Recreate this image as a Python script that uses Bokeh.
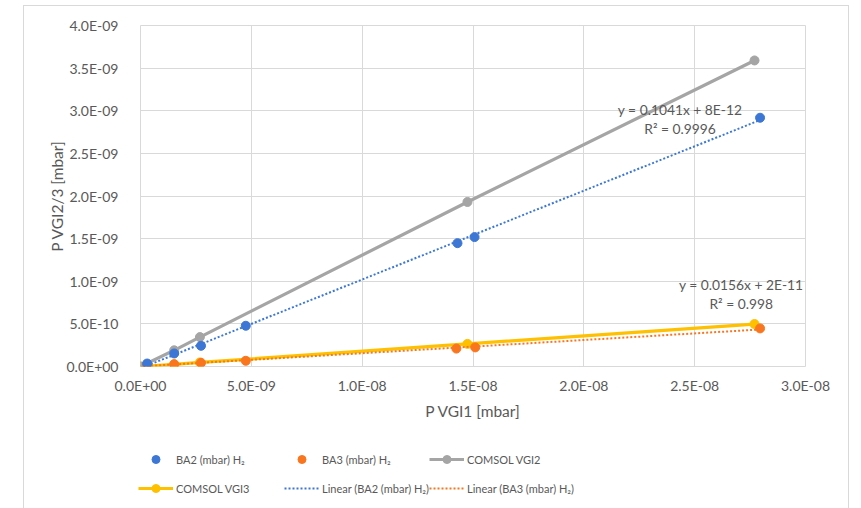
import numpy as np
from bokeh.plotting import figure
from bokeh.layouts import column
from bokeh.models import (Legend, LegendItem, FixedTicker, CustomJSTickFormatter,
                          Range1d)
from bokeh.core.properties import value
from bokeh.embed import file_html
from bokeh.resources import INLINE

# ---- data ----
ba2_x = [0.3e-9, 1.52e-9, 2.73e-9, 4.75e-9, 1.43e-8, 1.507e-8, 2.795e-8]
ba2_y = [0.35e-10, 1.53e-10, 2.43e-10, 4.78e-10, 1.447e-9, 1.518e-9, 2.918e-9]
ba3_x = [0.3e-9, 1.52e-9, 2.73e-9, 4.75e-9, 1.425e-8, 1.51e-8, 2.795e-8]
ba3_y = [0.20e-10, 0.27e-10, 0.43e-10, 0.67e-10, 2.10e-10, 2.24e-10, 4.47e-10]
comsol_x = [0.0, 1.52e-9, 2.68e-9, 1.475e-8, 2.77e-8]
vgi2_y = [0.0, 1.90e-10, 3.45e-10, 1.93e-9, 3.59e-9]
vgi3_y = [0.0, 2.6e-11, 4.8e-11, 2.65e-10, 4.98e-10]

x_ticks = [0, 5e-9, 1e-8, 1.5e-8, 2e-8, 2.5e-8, 3e-8]
y_ticks = [0, 5e-10, 1e-9, 1.5e-9, 2e-9, 2.5e-9, 3e-9, 3.5e-9, 4e-9]

eq_ba2 = ["y = 0.1041x + 8E-12", "R² = 0.9996"]
eq_ba3 = ["y = 0.0156x + 2E-11", "R² = 0.998"]
eq_ba2_pos = ([2.434e-8, 2.434e-8], [3.01e-9, 2.79e-9])
eq_ba3_pos = ([2.71e-8, 2.71e-8], [9.65e-10, 7.41e-10])

labels = ["BA2 (mbar) H₂", "BA3 (mbar) H₂", "COMSOL VGI2", "COMSOL VGI3",
          "Linear (BA2 (mbar) H₂)", "Linear (BA3 (mbar) H₂)"]

BLUE = "#3D77D6"
ORANGE = "#FA761E"
GREY = "#A5A5A5"
YELLOW = "#FFC000"
TXT = "#595959"
GRID = "#D9D9D9"
FONT = "Lato"
BORDER = "1px solid #D9D9D9"

p = figure(frame_width=663, frame_height=340, output_backend="svg",
           toolbar_location=None,
           min_border_left=116, min_border_top=19, min_border_right=45,
           min_border_bottom=66,
           x_range=Range1d(0, 3e-8), y_range=Range1d(0, 4e-9))
p.margin = (5, 0, 0, 23)
p.styles = {"border-left": BORDER, "border-right": BORDER, "border-top": BORDER}
p.outline_line_color = GRID
p.background_fill_color = "white"
p.border_fill_color = "white"

fmt = CustomJSTickFormatter(code="""
if (Math.abs(tick) < 1e-20) return "0.0E+00";
var s = tick.toExponential(1).split('e');
var e = parseInt(s[1]);
var a = Math.abs(e);
return s[0] + 'E' + (e < 0 ? '-' : '+') + (a < 10 ? '0' : '') + a;
""")

for ax, ticks in ((p.xaxis[0], x_ticks), (p.yaxis[0], y_ticks)):
    ax.ticker = FixedTicker(ticks=ticks)
    ax.formatter = fmt
    ax.axis_line_color = None
    ax.major_tick_line_color = None
    ax.minor_tick_line_color = None
    ax.major_label_text_font = FONT
    ax.major_label_text_font_size = "14px"
    ax.major_label_text_color = TXT
    ax.axis_label_text_font = FONT
    ax.axis_label_text_font_size = "15.5px"
    ax.axis_label_text_color = TXT
    ax.axis_label_text_font_style = "normal"

p.xaxis.axis_label = "P VGI1 [mbar]"
p.yaxis.axis_label = "P VGI2/3 [mbar]"
p.xaxis.major_label_standoff = 4
p.yaxis.major_label_standoff = 16
p.xaxis.axis_label_standoff = 5
p.yaxis.axis_label_standoff = -2

p.xgrid.ticker = FixedTicker(ticks=x_ticks)
p.ygrid.ticker = FixedTicker(ticks=y_ticks)
p.grid.grid_line_color = GRID
p.grid.grid_line_width = 1

# trendlines (least squares from the measured points)
def trend(x, y):
    k, b = np.polyfit(np.array(x), np.array(y), 1)
    xs = np.array([min(x), max(x)])
    return xs, k * xs + b

t2x, t2y = trend(ba2_x, ba2_y)
t3x, t3y = trend(ba3_x, ba3_y)

STY = {
    "vgi3_l": dict(line_color=YELLOW, line_width=3.2),
    "vgi3_m": dict(size=9, fill_color=YELLOW, line_color=YELLOW),
    "vgi2_l": dict(line_color=GREY, line_width=3.2),
    "vgi2_m": dict(size=9, fill_color=GREY, line_color=GREY),
    "t3": dict(line_color=ORANGE, line_width=2, line_dash="2 2"),
    "t2": dict(line_color=BLUE, line_width=2, line_dash="2 2"),
    "ba3": dict(size=9, fill_color=ORANGE, line_color=ORANGE),
    "ba2": dict(size=9, fill_color=BLUE, line_color=BLUE),
}

def draw(fig):
    return {
        "vgi3_l": fig.line(comsol_x, vgi3_y, **STY["vgi3_l"]),
        "vgi3_m": fig.scatter(comsol_x, vgi3_y, **STY["vgi3_m"]),
        "vgi2_l": fig.line(comsol_x, vgi2_y, **STY["vgi2_l"]),
        "vgi2_m": fig.scatter(comsol_x, vgi2_y, **STY["vgi2_m"]),
        "t3": fig.line(t3x, t3y, **STY["t3"]),
        "t2": fig.line(t2x, t2y, **STY["t2"]),
        "ba3": fig.scatter(ba3_x, ba3_y, **STY["ba3"]),
        "ba2": fig.scatter(ba2_x, ba2_y, **STY["ba2"]),
    }

draw(p)

p.text(x=eq_ba2_pos[0], y=eq_ba2_pos[1], text=eq_ba2, text_align="center",
       text_baseline="middle", text_font=value(FONT), text_font_size="13.8px",
       text_color=TXT)
p.text(x=eq_ba3_pos[0], y=eq_ba3_pos[1], text=eq_ba3, text_align="center",
       text_baseline="middle", text_font=value(FONT), text_font_size="13.8px",
       text_color=TXT)

# ---- legend strip (separate figure so the legend is not clipped) ----
# The same series are drawn here, but the view range lies far from the data,
# so only the legend entries are visible.
q = figure(frame_width=824, frame_height=78, output_backend="svg",
           toolbar_location=None, x_axis_location=None, y_axis_location=None,
           min_border=0, x_range=Range1d(10, 11), y_range=Range1d(10, 11))
q.margin = (0, 0, 0, 23)
q.styles = {"border-left": BORDER, "border-right": BORDER}
q.grid.visible = False
q.outline_line_color = None
q.background_fill_color = "white"
q.border_fill_color = "white"

r = draw(q)
lr = {
    labels[0]: [r["ba2"]],
    labels[1]: [r["ba3"]],
    labels[2]: [r["vgi2_l"], r["vgi2_m"]],
    labels[3]: [r["vgi3_l"], r["vgi3_m"]],
    labels[4]: [r["t2"]],
    labels[5]: [r["t3"]],
}
cols = [[labels[0], labels[3]], [labels[1], labels[4]], [labels[2], labels[5]]]
col_x = [114, 260, 405]
for cx, names in zip(col_x, cols):
    lg = Legend(items=[LegendItem(label=n, renderers=lr[n]) for n in names],
                location=(cx, 11), orientation="vertical",
                padding=0, margin=0, spacing=9, glyph_width=35, glyph_height=20,
                label_height=20, label_standoff=3, border_line_color=None,
                background_fill_alpha=0, label_text_font=FONT,
                label_text_font_size="11px", label_text_color=TXT)
    q.add_layout(lg, "center")

layout = column(p, q, spacing=0)
open("out.html", "w").write(file_html(layout, INLINE))
